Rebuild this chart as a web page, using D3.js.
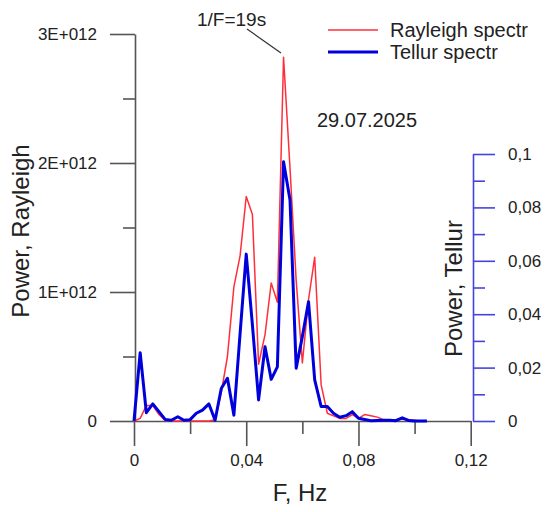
<!DOCTYPE html>
<meta charset="utf-8">

<!-- Load d3.js -->
<script src="https://d3js.org/d3.v7.min.js"></script>

<style>
  body { margin: 0; background: #fff; }
  text { font-family: "Liberation Sans", Arial, sans-serif; fill: #222; }
</style>

<!-- Create a div where the graph will take place -->
<div id="my_dataviz"></div>

<script>

// frequencies, Hz
var freq = [0, 0.0022, 0.0044, 0.0067, 0.0089, 0.0111, 0.0133, 0.0156, 0.0178, 0.0200,
            0.0222, 0.0244, 0.0267, 0.0289, 0.0311, 0.0333, 0.0356, 0.0378, 0.0400, 0.0422,
            0.0444, 0.0467, 0.0489, 0.0511, 0.0533, 0.0556, 0.0578, 0.0600, 0.0622, 0.0644,
            0.0667, 0.0689, 0.0711, 0.0733, 0.0756, 0.0778, 0.0800, 0.0822, 0.0844, 0.0867,
            0.0889, 0.0911, 0.0933, 0.0956, 0.0978, 0.1000, 0.1022, 0.1044];

// Rayleigh power (left axis)
var rayleigh = [0, 0.02e12, 0.12e12, 0.12e12, 0.05e12, 0.005e12, 0, 0, 0, 0,
                0, 0, 0, 0.01e12, 0.22e12, 0.5e12, 1.04e12, 1.28e12, 1.74e12, 1.6e12,
                0.44e12, 0.67e12, 1.07e12, 0.92e12, 2.82e12, 1.96e12, 1.09e12, 0.45e12, 0.94e12, 1.27e12,
                0.28e12, 0.06e12, 0.04e12, 0.02e12, 0.02e12, 0.05e12, 0.02e12, 0.05e12, 0.04e12, 0.03e12,
                0.01e12, 0.01e12, 0.01e12, 0.015e12, 0.01e12, 0.005e12, 0, 0];

// Tellur power (right axis)
var tellur = [0, 0.0256, 0.0031, 0.0064, 0.0035, 0.0006, 0.0003, 0.0016, 0.0003, 0.0005,
              0.0029, 0.0041, 0.0064, 0.0003, 0.0122, 0.016, 0.0022, 0.0326, 0.0625, 0.036,
              0.0079, 0.0278, 0.0156, 0.0203, 0.0971, 0.0828, 0.0198, 0.0316, 0.0447, 0.0154,
              0.0054, 0.0054, 0.0029, 0.0014, 0.002, 0.0035, 0.001, 0.0006, 0.0001, 0.0002,
              0.0003, 0.0003, 0.0001, 0.0012, 0.0002, 0, 0, 0];

// tick values
var xMajor = [0, 0.04, 0.08, 0.12];
var xMinor = [0.02, 0.06, 0.1];
var yLeftMajor = [0, 1e12, 2e12, 3e12];
var yLeftMinor = [0.5e12, 1.5e12, 2.5e12];
var yRightMajor = [0, 0.02, 0.04, 0.06, 0.08, 0.1];
var yRightMinor = [0.01, 0.03, 0.05, 0.07, 0.09];

var W = 550, H = 512;

var svg = d3.select("#my_dataviz")
  .append("svg")
    .attr("width", W)
    .attr("height", H);

// scales
var x = d3.scaleLinear().domain([0, 0.12]).range([134, 470.7]);
var yL = d3.scaleLinear().domain([0, 3e12]).range([421, 34]);
var yR = d3.scaleLinear().domain([0, 0.1]).range([421, 154]);

function comma(d) { return String(+d.toFixed(3)).replace(".", ","); }
function sci(d) { return d === 0 ? "0" : (d / 1e12) + "E+012"; }

// style an axis group
function styleAxis(g, color) {
  g.select(".domain").attr("stroke", color).attr("stroke-width", 1.6);
  g.selectAll(".tick line").attr("stroke", color).attr("stroke-width", 1.6);
  g.selectAll(".tick text")
    .style("font-size", "17px")
    .attr("fill", "#222");
}

// X axis
var gx = svg.append("g")
  .attr("transform", "translate(0,421)")
  .call(d3.axisBottom(x).tickValues(xMajor).tickSize(25).tickSizeOuter(0)
          .tickPadding(8).tickFormat(comma));
styleAxis(gx, "#555");
svg.append("g")
  .attr("transform", "translate(0,421)")
  .call(d3.axisBottom(x).tickValues(xMinor).tickSize(13).tickSizeOuter(0).tickFormat(""))
  .call(function(g) { g.select(".domain").remove(); styleAxis(g, "#555"); });

// left Y axis
var gl = svg.append("g")
  .attr("transform", "translate(135,0)")
  .call(d3.axisLeft(yL).tickValues(yLeftMajor).tickSize(25).tickSizeOuter(0)
          .tickPadding(13).tickFormat(sci));
styleAxis(gl, "#555");
svg.append("g")
  .attr("transform", "translate(135,0)")
  .call(d3.axisLeft(yL).tickValues(yLeftMinor).tickSize(12).tickSizeOuter(0).tickFormat(""))
  .call(function(g) { g.select(".domain").remove(); styleAxis(g, "#555"); });

// right Y axis (blue)
var gr = svg.append("g")
  .attr("transform", "translate(473,0)")
  .call(d3.axisRight(yR).tickValues(yRightMajor).tickSize(22).tickSizeOuter(0)
          .tickPadding(13).tickFormat(comma));
styleAxis(gr, "#4444dd");
svg.append("g")
  .attr("transform", "translate(473,0)")
  .call(d3.axisRight(yR).tickValues(yRightMinor).tickSize(12).tickSizeOuter(0).tickFormat(""))
  .call(function(g) { g.select(".domain").remove(); styleAxis(g, "#4444dd"); });

// lines
var idx = d3.range(freq.length);

var lineRay = d3.line()
  .x(function(i) { return x(freq[i]); })
  .y(function(i) { return yL(rayleigh[i]); });

var lineTel = d3.line()
  .x(function(i) { return x(freq[i]); })
  .y(function(i) { return yR(tellur[i]); });

svg.append("path")
  .datum(idx)
  .attr("d", lineRay)
  .attr("fill", "none")
  .attr("stroke", "#ff2f3a")
  .attr("stroke-width", 1.5)
  .attr("stroke-linejoin", "round");

svg.append("path")
  .datum(idx)
  .attr("d", lineTel)
  .attr("fill", "none")
  .attr("stroke", "#0000dd")
  .attr("stroke-width", 3)
  .attr("stroke-linejoin", "round");

// axis titles
svg.append("text")
  .attr("transform", "translate(29,231) rotate(-90)")
  .attr("text-anchor", "middle")
  .style("font-size", "24px")
  .text("Power, Rayleigh");

svg.append("text")
  .attr("transform", "translate(462,357) rotate(-90)")
  .attr("text-anchor", "start")
  .style("font-size", "24px")
  .text("Power, Tellur");

svg.append("text")
  .attr("x", 300)
  .attr("y", 501)
  .attr("text-anchor", "middle")
  .style("font-size", "24px")
  .text("F, Hz");

// legend
var legend = [
  {name: "Rayleigh spectr", color: "#ff2f3a", width: 1.5, y: 30},
  {name: "Tellur spectr", color: "#0000dd", width: 3, y: 52}
];
legend.forEach(function(d) {
  svg.append("line")
    .attr("x1", 328).attr("x2", 378)
    .attr("y1", d.y).attr("y2", d.y)
    .attr("stroke", d.color)
    .attr("stroke-width", d.width);
  svg.append("text")
    .attr("x", 390)
    .attr("y", d.y + 7)
    .style("font-size", "20px")
    .text(d.name);
});

// annotations
svg.append("text")
  .attr("x", 317)
  .attr("y", 127)
  .style("font-size", "20px")
  .text("29.07.2025");

svg.append("text")
  .attr("x", 197)
  .attr("y", 26)
  .style("font-size", "19px")
  .text("1/F=19s");

svg.append("line")
  .attr("x1", 247).attr("y1", 29)
  .attr("x2", 281).attr("y2", 53)
  .attr("stroke", "#333")
  .attr("stroke-width", 1.2);

</script>
